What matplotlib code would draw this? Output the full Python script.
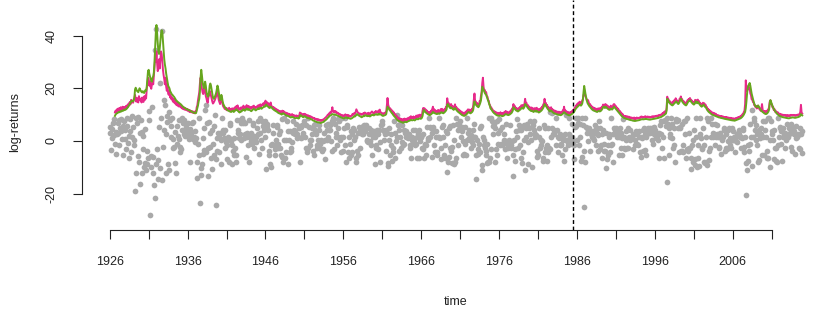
import numpy as np
import matplotlib.pyplot as plt

plt.rcParams['font.family'] = ['Liberation Sans', 'DejaVu Sans']

START_YEAR = 1926
BREAK_YEAR = 1985.5
X_TICKS = list(range(1926, 2012, 5))
Y_TICKS = [-20, 0, 20, 40]

# monthly log-returns (%), one row per year
returns_txt = """
1926: 3.0 5.3 -3.4 1.0 4.4 6.8 8.2 2.2 -1.2 -4.9 3.4 2.5
1927: 7.0 2.9 7.9 -1.7 4.8 8.4 3.6 0.8 5.6 -5.5 7.5 4.0
1928: 0.9 -3.1 8.6 5.5 -0.8 -6.6 1.7 8.3 3.8 -4.2 9.4 1.6
1929: 5.3 -1.6 0.4 -18.9 -12.0 8.8 6.9 9.1 -5.6 -8.1 -16.3 2.9
1930: 8.1 3.5 -12.0 1.8 -3.0 -9.7 4.7 -8.4 -11.2 -8.8 -4.0 -6.3
1931: 8.1 11.3 -28.1 -5.7 -9.8 12.9 -6.2 -12.2 -16.7 34.5 -21.6 -8.6
1932: 42.4 -3.1 -7.2 -14.5 5.3 -10.1 22.0 8.7 -14.8 41.9 -2.4 15.6
1933: 4.2 13.7 -12.3 2.8 7.1 9.6 -8.9 10.8 -11.0 7.9 5.7 1.6
1934: 8.9 -2.7 0.8 -2.2 -8.2 3.3 -12.0 5.8 -1.2 1.9 7.8 0.9
1935: -4.1 -2.3 -3.2 8.7 4.1 6.8 7.9 2.7 1.8 6.6 5.2 3.7
1936: 6.8 2.3 0.9 -7.9 4.7 3.2 6.9 1.2 0.6 7.1 1.4 -0.3
1937: 3.8 1.2 -14.2 -7.8 -1.1 -5.2 8.9 -23.4 -12.8 -10.2 -8.7 -4.9
1938: 1.2 4.8 -3.3 11.6 -4.1 13.8 6.9 -2.7 -13.3 7.2 -2.2 3.1
1939: -6.3 4.1 -10.8 -1.2 5.8 -5.3 9.7 -6.9 -24.4 1.1 -3.8 2.9
1940: -4.2 1.4 3.0 0.3 -8.9 8.8 4.0 2.9 1.0 4.2 -2.7 -0.3
1941: -6.8 -1.7 1.4 -7.9 1.2 6.2 6.9 0.1 -1.6 -8.8 -4.0 -5.5
1942: 1.0 -2.7 -8.1 -5.3 8.1 3.0 4.2 1.2 2.7 7.9 0.3 6.9
1943: 8.8 7.7 6.8 1.0 6.9 2.5 -6.2 1.6 3.0 -1.4 -8.1 7.9
1944: 1.6 0.1 3.0 -1.2 6.2 6.8 -2.5 1.7 0.3 -0.3 1.4 4.9
1945: 2.7 7.5 -5.1 8.8 2.9 0.4 -2.7 7.7 5.5 4.0 6.2 1.6
1946: 7.5 -10.7 6.4 5.5 4.0 -5.3 -3.8 -8.8 -9.8 -1.6 -1.0 6.2
1947: 2.9 -1.4 -3.0 -5.5 0.4 6.2 5.3 -2.7 -1.0 2.7 -2.5 3.6
1948: -5.3 -6.2 8.4 -7.8 8.6 0.3 -6.6 0.4 -4.2 7.5 -8.8 3.6
1949: 0.3 -4.2 3.6 -2.7 -4.0 -0.3 7.7 2.9 4.0 3.6 2.7 6.4
1950: 2.7 1.0 1.6 5.1 5.5 -7.9 1.2 5.3 6.2 1.6 2.9 6.4
1951: 7.5 1.6 -2.7 6.2 -4.2 -2.7 8.8 5.3 0.3 -1.6 0.4 4.9
1952: 2.7 -4.0 6.2 -5.5 4.2 6.4 2.7 -1.6 -2.7 0.3 6.2 4.2
1953: -1.0 0.3 -2.9 -4.0 0.1 -3.0 2.9 -6.8 0.4 6.2 4.0 0.3
1954: 6.4 1.6 4.2 6.2 4.0 0.1 7.5 -4.0 8.6 -2.9 8.4 6.4
1955: 2.9 1.4 -1.6 5.1 1.6 8.6 7.7 0.3 1.4 -4.2 8.8 1.6
1956: -4.0 5.1 8.8 -1.6 -7.9 5.3 6.2 -4.2 -6.4 1.4 -1.0 3.6
1957: -5.3 -4.2 2.7 4.9 4.0 0.3 1.6 -6.6 -8.1 -4.0 2.9 -5.5
1958: 5.3 -2.7 4.2 3.6 2.7 4.0 5.5 2.5 6.2 3.8 4.2 6.2
1959: 0.4 0.1 -0.3 5.1 2.7 -0.1 4.2 -1.6 -5.3 1.6 2.7 3.8
1960: -8.6 1.6 -1.6 -2.7 4.2 2.7 -2.9 4.0 -7.9 -0.3 6.2 6.4
1961: 7.5 4.0 3.6 0.3 2.7 -4.0 4.2 2.9 -9.5 -8.3 4.9 0.3
1962: -5.3 2.5 -1.4 -7.5 -4.2 -2.7 7.5 2.9 -6.4 0.1 9.8 1.6
1963: 6.2 -4.0 4.2 6.4 1.4 -2.7 -0.3 6.2 -1.6 4.0 -1.2 2.9
1964: 3.6 1.4 2.7 1.0 1.6 2.5 -2.7 -1.6 -6.6 1.4 0.3 -0.1
1965: 4.0 0.3 -1.4 4.2 -1.2 -6.6 1.6 2.7 4.2 -6.6 0.1 1.6
1966: 1.4 -2.7 -2.9 2.7 -6.4 -1.6 -1.0 -5.5 -1.4 5.3 1.2 0.3
1967: 8.8 1.6 5.3 5.1 -6.2 2.9 5.3 -1.6 3.8 -4.2 1.4 3.6
1968: -5.3 -4.2 1.4 8.6 1.6 1.2 -2.7 -7.0 5.3 1.6 6.2 -5.5
1969: -1.6 -6.4 3.6 2.9 -11.8 -7.9 -6.2 5.1 -2.7 5.5 -4.0 -2.3
1970: -8.4 6.2 0.3 -8.8 -7.9 -6.4 8.8 6.4 4.0 -1.6 6.2 7.5
1971: 5.1 1.6 5.3 3.6 -5.5 0.1 -4.9 5.3 -1.0 -5.3 0.3 8.7
1972: 2.9 4.0 1.2 0.3 2.3 -2.7 -0.3 4.2 -1.4 1.6 6.4 1.4
1973: -14.6 -5.3 0.3 -5.1 -2.9 -1.0 5.1 -4.2 5.5 -9.3 -11.0 1.6
1974: -1.4 0.3 -2.7 -5.5 -4.0 -1.2 -8.4 -7.8 -7.9 8.8 -6.4 -2.9
1975: 8.6 7.5 2.7 5.5 6.4 4.9 -7.9 -2.9 -5.3 7.7 2.9 -1.0
1976: 8.4 -1.6 4.0 -1.2 -1.6 5.3 -1.0 0.3 2.7 -2.9 0.1 6.4
1977: -6.4 -2.7 -1.6 0.3 -1.2 6.2 -2.7 -1.4 0.1 -5.5 -13.3 0.3
1978: -7.5 -2.9 3.8 8.4 1.6 -2.5 6.2 4.0 -1.6 -6.6 4.2 -8.5
1979: 5.3 -4.2 6.2 0.3 -11.0 5.1 1.4 6.4 -0.3 -8.8 5.1 2.7
1980: 7.7 0.3 -9.8 5.3 6.2 4.2 7.7 1.6 2.7 2.3 -6.0 -4.0
1981: -5.5 1.4 4.9 -2.7 0.3 -1.6 0.1 -7.5 -6.4 6.2 5.1 -4.2
1982: -2.7 -7.5 -1.6 5.1 -4.2 -2.7 -2.9 10.8 1.6 10.6 4.9 2.7
1983: 4.2 2.7 3.6 8.8 -1.4 4.0 -4.2 1.6 1.2 -1.6 2.7 -1.0
1984: -1.4 -5.5 1.6 0.3 -7.7 2.7 -2.9 9.8 -0.1 0.3 -1.6 2.7
1985: 8.8 1.6 -0.3 -1.0 6.4 1.4 -0.1 -1.6 -6.9 5.3 8.8 5.5
1986: 0.3 8.8 6.8 -1.6 6.4 1.4 -7.5 8.6 -6.2 6.2 -25.2 -4.0
1987: -7.8 8.6 5.3 4.9 2.9 0.1 5.1 4.2 -4.0 2.7 3.6 1.6
1988: 2.7 1.2 0.3 6.2 4.0 -1.6 5.1 2.9 2.3 -4.0 7.5 -2.9
1989: 5.1 -1.6 -6.5 2.7 4.2 -1.0 -4.0 -3.8 -10.4 2.9 -6.8 -1.4
1990: -5.3 1.6 2.5 -4.2 8.6 -1.4 -1.2 -8.1 2.7 5.1 4.0 2.9
1991: 5.1 1.6 2.7 3.6 1.4 -5.3 4.9 2.9 -2.7 1.2 -5.5 8.4
1992: -2.7 1.6 -2.9 3.8 0.3 -2.5 4.9 -2.7 1.4 0.3 4.0 1.0
1993: 1.6 1.0 2.7 -2.9 2.5 0.3 -1.4 3.6 -1.2 2.7 -1.6 1.4
1994: 3.8 -4.2 -6.2 1.6 1.2 -4.0 4.2 5.1 -3.6 2.7 -5.3 1.6
1995: 2.7 4.9 4.0 3.6 5.1 2.9 4.0 0.3 5.1 -1.0 5.3 2.5
1996: 4.0 1.6 1.2 1.6 2.7 0.3 -6.6 2.9 6.2 2.7 7.7 -2.7
1997: 7.5 1.6 -6.4 7.7 7.9 5.5 8.6 -15.4 6.4 -5.3 5.1 2.7
1998: 1.6 8.8 6.4 1.0 -2.7 5.1 -1.6 -7.9 7.5 8.4 7.5 7.9
1999: 5.1 -4.2 5.3 4.9 -4.0 6.4 -3.8 -1.6 -4.2 7.5 2.7 7.7
2000: -6.6 -2.9 8.8 -4.0 -2.7 2.9 -2.5 -10.8 -6.4 -1.6 -8.1 0.3
2001: 4.0 -9.1 -6.8 8.6 1.4 -9.7 -1.6 -6.5 -9.5 2.7 8.8 1.2
2002: -2.7 -2.9 5.1 -7.9 -1.6 -8.2 -7.8 1.4 -9.1 8.6 7.5 -7.1
2003: -4.0 -2.7 1.6 8.6 6.4 1.4 2.9 2.5 -1.6 6.4 1.6 6.2
2004: 2.5 1.6 -2.7 -2.3 1.4 2.9 -5.1 0.3 1.4 1.6 5.1 4.0
2005: -4.0 2.7 -2.5 -2.9 4.0 0.1 5.1 -1.6 1.2 -2.7 4.9 0.3
2006: 3.6 0.3 1.6 1.4 -4.2 0.1 -0.3 2.7 2.9 4.0 2.5 1.6
2007: 1.6 -2.7 1.2 5.1 4.0 -2.3 -4.2 1.4 -20.5 -8.5 -11.0 -1.6
2008: -7.7 -4.0 -1.0 6.4 1.6 -9.5 11.8 1.6 8.6 7.7 4.0 0.3
2009: 6.2 -1.6 2.7 -7.9 -7.2 4.0 1.2 5.1 2.7 -5.3 7.5 1.6
2010: -5.3 4.0 7.5 1.6 -4.0 -6.4 8.8 -6.6 8.6 -9.7 0.3 7.7
2011: 2.7 3.6 0.3 4.0 -7.0 -2.7 -2.5 -7.5 -7.9 8.8 -1.6 1.4
2012: 5.1 5.3 3.6 -1.2 -7.7 5.1 1.6 2.7 2.9 -2.5 0.3 1.4
2013: 6.4 1.6 4.9 2.7 2.9 -2.3 6.4 -4.0 4.2 5.3 3.6 2.7
2014: -5.1 5.5 1.2 1.4 2.7 2.3 -2.7 5.1 -2.9 2.7 3.6 -4.7
"""

# first forecast band (pink)
band_a_txt = """
1926: nan nan nan nan nan nan nan nan 10.8 11.5 10.9 12.0
1927: 11.2 12.3 11.6 12.5 11.4 12.8 11.9 12.6 13.0 11.8 12.9 12.2
1928: 12.5 13.3 12.4 13.6 12.9 14.2 13.5 14.8 13.9 15.6 14.7 15.2
1929: 14.5 15.8 16.2 17.5 15.8 14.9 16.3 15.2 14.6 17.0 16.2 15.4
1930: 15.8 14.6 16.5 15.3 14.8 16.9 15.5 17.2 16.1 19.5 22.0 24.0
1931: 23.5 21.0 22.5 20.5 19.8 21.5 23.0 21.5 24.5 28.0 31.5 30.0
1932: 34.0 29.5 26.5 28.0 31.0 27.5 30.5 34.0 33.0 30.5 27.0 25.0
1933: 23.5 21.5 24.0 20.5 19.0 21.5 18.0 17.5 19.0 16.5 17.2 15.8
1934: 16.5 15.2 14.8 16.0 14.3 15.1 13.8 14.6 13.5 14.2 13.1 13.8
1935: 13.2 12.8 13.5 12.4 12.9 12.1 12.7 11.9 12.5 11.8 12.2 11.6
1936: 12.1 11.3 11.8 11.0 11.6 10.9 11.4 10.8 11.2 10.6 11.1 10.5
1937: 11.2 10.8 12.8 13.5 15.5 17.0 18.5 22.0 24.0 21.5 20.0 18.5
1938: 17.8 18.9 20.5 19.0 17.0 16.2 15.0 14.5 16.5 17.5 19.0 18.0
1939: 17.2 16.0 15.0 14.2 14.5 15.0 15.5 16.2 17.0 18.5 19.5 17.0
1940: 15.5 14.8 14.0 15.5 17.0 15.0 13.8 13.0 12.8 12.2 12.6 11.9
1941: 12.5 11.6 12.2 11.8 12.6 11.5 12.0 11.4 12.3 11.9 12.4 11.6
1942: 12.0 12.8 12.3 13.2 12.4 13.5 12.1 11.8 12.4 11.9 12.7 12.2
1943: 12.8 12.4 13.4 12.6 12.2 13.0 12.8 13.6 12.9 12.5 13.3 12.7
1944: 12.4 12.9 12.2 12.7 13.1 12.6 13.4 12.8 12.5 12.9 12.6 13.2
1945: 13.0 13.6 12.8 13.4 13.9 13.1 13.5 13.8 14.2 13.6 14.5 14.0
1946: 15.3 14.2 14.8 13.9 14.4 13.5 13.2 13.9 14.6 13.4 13.1 12.8
1947: 12.9 12.3 12.6 11.9 12.2 11.6 11.9 11.3 11.6 11.0 11.4 10.9
1948: 11.2 10.7 11.5 11.0 11.3 10.6 10.9 10.4 10.7 10.1 10.5 10.0
1949: 10.3 9.8 10.1 9.6 9.9 10.2 9.7 9.5 9.8 9.3 9.6 9.4
1950: 9.7 9.3 9.5 9.2 9.6 10.8 10.3 10.5 10.0 9.8 10.2 9.9
1951: 10.3 9.9 10.1 9.6 9.8 9.4 9.7 9.2 9.5 9.0 9.3 8.9
1952: 9.0 8.6 8.8 8.4 8.6 8.2 8.4 8.0 8.3 7.9 8.2 7.8
1953: 7.9 7.6 7.9 7.7 8.1 7.9 8.3 8.5 8.8 8.9 9.3 9.5
1954: 10.0 9.8 10.5 10.3 11.0 10.6 11.5 12.8 11.2 10.9 11.4 11.0
1955: 11.3 10.7 10.9 10.4 10.6 10.1 10.3 9.9 10.0 9.6 9.8 9.5
1956: 9.7 9.3 9.8 10.1 9.8 9.6 9.9 9.4 9.8 9.5 9.3 9.2
1957: 9.5 9.6 10.2 9.9 10.4 10.6 10.3 11.2 12.0 11.4 10.9 10.6
1958: 10.5 10.2 10.4 10.0 9.9 10.3 10.1 10.6 10.2 10.8 10.5 10.4
1959: 10.2 10.5 10.3 10.7 10.2 10.1 10.6 10.9 11.2 10.8 10.6 10.4
1960: 11.0 10.8 11.4 10.9 10.7 11.1 11.5 10.8 11.9 11.0 10.8 10.6
1961: 10.3 10.4 10.2 10.6 10.5 10.9 11.2 13.5 16.3 13.8 12.9 12.4
1962: 12.4 11.5 11.9 10.8 11.3 10.2 10.8 9.6 10.1 9.1 9.6 8.6
1963: 9.0 8.1 8.7 7.8 8.5 7.7 8.3 7.5 8.2 7.6 8.5 7.9
1964: 8.4 7.7 8.5 7.9 8.8 8.1 9.0 8.4 9.4 8.5 9.1 8.6
1965: 9.3 8.5 9.1 8.7 9.6 9.0 9.7 8.8 9.8 9.4 10.0 9.0
1966: 9.8 9.6 11.5 12.5 12.0 12.4 11.2 11.9 10.8 11.5 10.4 11.0
1967: 10.2 10.9 10.3 11.5 10.8 12.2 13.0 11.4 12.0 10.9 11.6 10.7
1968: 11.4 10.7 11.8 10.9 11.5 11.0 12.1 11.6 12.2 11.0 11.8 11.2
1969: 12.2 11.7 12.9 12.8 16.2 14.4 14.5 13.3 13.8 12.8 14.0 12.9
1970: 13.3 12.3 13.0 12.8 13.9 12.5 12.9 11.8 12.3 11.4 11.9 11.0
1971: 11.5 10.6 11.1 10.2 10.8 10.0 10.6 10.1 11.0 10.4 11.5 11.0
1972: 12.0 11.4 11.9 11.1 11.7 11.2 12.2 11.9 13.4 15.8 18.0 15.0
1973: 15.0 13.9 14.4 13.4 14.0 13.7 15.2 15.1 17.2 18.6 22.0 24.0
1974: 20.5 19.2 19.3 18.1 18.5 17.0 16.8 15.5 15.3 13.8 13.6 12.3
1975: 12.7 11.7 11.9 11.1 11.4 10.7 11.1 10.4 10.8 10.1 10.7 10.1
1976: 10.6 10.0 10.9 10.1 10.6 9.9 10.6 10.2 11.0 10.6 11.4 10.6
1977: 11.1 10.3 10.8 10.4 11.1 10.8 11.6 11.2 12.3 12.3 14.0 13.0
1978: 13.3 12.3 12.6 11.9 12.3 11.6 12.4 12.1 12.9 12.6 13.5 13.2
1979: 13.6 12.7 13.7 14.0 16.0 14.3 14.5 13.4 13.7 12.8 13.1 12.3
1980: 12.7 11.9 12.7 11.8 12.3 11.5 12.4 12.1 12.4 11.6 12.6 11.7
1981: 12.1 11.3 12.0 11.6 12.4 12.0 13.0 12.8 13.9 14.1 16.0 14.3
1982: 14.4 13.4 13.6 12.6 12.9 12.0 12.3 11.9 12.8 11.8 12.1 11.3
1983: 11.7 11.0 11.5 10.8 11.3 10.6 11.1 10.4 11.1 10.4 10.9 10.3
1984: 11.0 10.7 11.6 11.4 13.0 11.3 11.6 10.8 11.2 10.5 11.0 10.3
1985: 10.8 10.3 11.0 10.5 11.3 10.9 11.8 11.5 12.5 12.4 13.4 13.1
1986: 14.0 13.6 14.5 14.1 14.9 14.2 14.6 14.3 15.4 15.8 17.4 18.0
1987: 18.5 17.0 16.4 15.4 15.6 15.5 14.7 13.7 14.0 13.1 13.4 12.5
1988: 12.9 12.1 12.6 11.9 12.4 11.7 12.2 11.5 12.3 11.9 12.4 11.7
1989: 12.4 12.0 12.9 12.7 13.8 13.4 13.8 13.0 14.0 13.3 13.6 12.8
1990: 13.2 12.4 12.9 12.4 13.4 12.6 13.0 12.7 13.8 14.0 13.8 12.9
1991: 13.2 12.3 12.6 11.7 12.0 11.1 11.4 10.5 10.8 9.9 10.3 9.5
1992: 9.6 9.2 9.5 9.0 9.4 8.9 9.3 8.8 9.2 8.7 9.0 8.6
1993: 8.9 8.5 8.8 8.4 8.9 8.3 8.7 8.4 8.9 8.5 8.8 8.6
1994: 8.7 9.0 8.8 9.3 8.9 9.2 8.8 9.1 9.0 9.4 9.0 9.2
1995: 9.0 9.3 8.9 9.2 8.8 9.1 8.9 9.3 9.0 9.4 9.1 9.3
1996: 9.2 9.5 9.3 9.6 9.4 9.7 9.5 9.9 9.7 10.0 9.9 10.2
1997: 10.6 10.3 11.0 10.7 11.4 11.1 12.5 16.8 15.5 15.8 14.6 15.1
1998: 14.8 14.4 14.5 14.1 15.0 14.7 15.5 15.2 16.2 15.4 15.4 14.6
1999: 15.1 14.8 16.0 16.1 16.9 15.8 15.8 15.0 15.2 14.4 14.7 14.0
2000: 14.5 14.4 15.4 15.4 15.9 15.8 16.3 15.6 15.6 14.9 15.0 14.3
2001: 14.7 14.6 15.6 15.4 15.4 14.8 15.7 14.9 15.1 14.2 14.4 13.6
2002: 14.0 13.7 14.5 14.3 14.3 13.4 13.8 12.9 12.9 12.0 12.2 11.4
2003: 11.7 11.0 11.3 10.6 10.9 10.3 10.7 10.1 10.5 9.9 10.3 9.7
2004: 9.7 9.8 9.5 9.6 9.4 9.5 9.2 9.4 9.1 9.3 9.0 9.1
2005: 8.9 9.1 8.8 9.0 8.7 8.9 8.6 8.8 8.5 8.8 8.4 8.6
2006: 8.3 8.6 8.2 8.5 8.4 8.7 8.5 8.9 8.7 9.1 8.9 9.3
2007: 9.2 9.6 9.6 10.2 10.3 11.0 11.5 14.0 23.0 19.5 19.0 20.0
2008: 20.9 19.6 19.9 18.0 17.4 15.8 15.9 14.8 14.7 13.6 13.6 12.8
2009: 13.2 12.3 13.3 13.1 13.0 12.0 12.3 11.4 12.3 14.0 11.9 11.0
2010: 11.4 10.6 11.3 10.5 11.4 11.1 11.9 11.8 13.2 15.0 15.4 14.0
2011: 14.0 12.8 13.0 11.8 12.2 11.1 11.5 10.7 11.0 10.3 10.8 10.1
2012: 10.0 10.3 9.8 10.1 9.7 10.0 9.6 9.9 9.6 9.8 9.5 9.8
2013: 9.5 9.8 9.4 9.7 9.5 9.9 9.6 9.9 9.8 9.7 9.9 9.6
2014: 9.7 9.5 9.9 9.8 10.0 9.7 10.1 10.2 11.0 13.7 10.8 10.4
"""

# second forecast band (green)
band_b_txt = """
1926: nan nan nan nan nan nan nan nan 9.5 10.0 10.3 10.5
1927: 10.6 10.8 11.0 10.9 11.1 11.3 11.2 11.4 11.6 11.5 11.7 11.9
1928: 11.8 12.0 12.2 12.5 12.8 13.2 13.6 14.0 14.6 15.0 15.3 15.2
1929: 15.0 15.4 16.5 19.5 20.2 19.6 19.0 18.8 18.5 19.2 20.0 19.4
1930: 19.0 18.6 18.4 18.9 18.5 18.2 18.8 19.3 19.0 20.5 23.5 26.5
1931: 27.0 25.5 24.5 23.5 22.8 22.5 24.0 24.5 26.0 30.0 36.0 41.0
1932: 44.0 41.0 37.0 34.0 33.0 35.0 38.0 40.5 42.0 41.5 38.0 34.5
1933: 31.0 29.0 27.5 25.5 24.0 22.5 21.0 20.5 20.0 19.0 18.5 18.0
1934: 17.6 17.4 17.0 16.8 16.4 16.0 15.5 15.3 15.0 14.8 14.6 14.4
1935: 14.2 14.0 13.8 13.5 13.2 13.0 12.8 12.6 12.5 12.3 12.2 12.0
1936: 11.9 11.8 11.7 11.6 11.4 11.3 11.2 11.0 10.9 10.8 10.7 10.6
1937: 10.5 10.6 11.5 12.5 13.5 15.0 16.0 19.0 24.0 27.0 25.0 22.5
1938: 21.0 20.0 20.8 22.5 21.0 18.8 17.5 16.8 17.0 18.5 21.0 21.8
1939: 21.0 19.5 18.0 16.5 16.0 16.3 16.8 17.5 18.2 19.5 21.0 20.0
1940: 18.5 17.0 15.5 16.0 17.5 16.5 15.0 14.0 13.5 13.0 12.6 12.3
1941: 12.0 11.8 11.6 11.5 11.3 11.2 11.1 11.0 11.2 11.5 11.3 11.0
1942: 11.2 11.5 11.7 12.0 11.8 11.5 11.3 11.0 10.8 11.0 11.3 11.2
1943: 11.5 11.8 12.0 11.7 11.5 11.6 12.0 12.3 12.0 11.8 12.1 11.9
1944: 11.7 11.5 11.3 11.5 11.8 12.0 12.2 12.0 11.8 11.6 11.8 12.0
1945: 12.2 12.4 12.1 12.3 12.6 12.4 12.2 12.5 12.7 12.9 13.1 13.0
1946: 13.3 13.8 13.5 13.2 13.0 12.8 12.5 12.6 13.0 12.8 12.5 12.2
1947: 12.0 11.8 11.6 11.5 11.3 11.2 11.0 10.8 10.6 10.5 10.4 10.3
1948: 10.2 10.0 10.3 10.5 10.4 10.2 10.0 9.8 9.7 9.5 9.6 9.5
1949: 9.3 9.2 9.0 8.9 9.0 9.2 9.1 8.9 8.8 8.7 8.6 8.7
1950: 8.8 8.7 8.6 8.5 8.7 9.5 9.8 9.6 9.4 9.2 9.0 9.2
1951: 9.4 9.3 9.1 9.0 8.8 8.7 8.6 8.7 8.5 8.4 8.3 8.2
1952: 8.0 7.8 7.7 7.6 7.5 7.4 7.3 7.2 7.1 7.0 7.1 7.0
1953: 6.9 6.8 6.9 7.0 7.1 7.2 7.3 7.6 7.8 8.0 8.2 8.5
1954: 8.8 9.0 9.3 9.5 9.7 9.8 10.0 10.2 10.1 10.0 9.9 10.1
1955: 10.0 9.8 9.7 9.6 9.5 9.4 9.3 9.1 9.0 8.9 8.8 8.7
1956: 8.6 8.5 8.7 8.9 9.0 8.8 8.7 8.6 8.8 8.6 8.5 8.4
1957: 8.5 8.6 8.8 9.0 9.2 9.4 9.3 9.6 10.0 10.2 10.0 9.8
1958: 9.6 9.5 9.3 9.2 9.0 9.1 9.3 9.5 9.4 9.6 9.8 9.7
1959: 9.5 9.4 9.5 9.6 9.4 9.3 9.5 9.7 9.9 10.0 9.8 9.7
1960: 9.9 10.0 10.2 10.1 9.9 10.0 10.2 10.0 10.3 10.1 10.0 9.8
1961: 9.6 9.5 9.6 9.7 9.8 9.9 10.2 11.5 13.0 12.6 12.2 11.8
1962: 11.5 11.2 10.8 10.5 10.2 9.8 9.5 9.2 9.0 8.6 8.3 8.0
1963: 7.8 7.6 7.5 7.4 7.3 7.2 7.1 7.0 6.9 7.0 7.2 7.3
1964: 7.2 7.1 7.2 7.4 7.5 7.6 7.7 7.8 8.0 7.9 7.8 7.9
1965: 8.0 7.9 7.8 8.0 8.2 8.4 8.3 8.2 8.4 8.6 8.5 8.4
1966: 8.5 8.8 9.5 11.0 11.8 11.4 11.0 10.8 10.6 10.4 10.2 10.0
1967: 9.9 9.8 9.9 10.1 10.3 10.6 11.0 10.8 10.6 10.5 10.4 10.3
1968: 10.2 10.3 10.5 10.4 10.3 10.5 10.7 10.9 10.8 10.6 10.5 10.7
1969: 10.9 11.2 11.5 12.0 13.8 14.0 13.5 13.0 12.6 12.4 12.8 12.5
1970: 12.2 12.0 11.8 12.2 12.5 12.2 11.8 11.5 11.2 11.0 10.8 10.6
1971: 10.4 10.2 10.0 9.8 9.7 9.6 9.5 9.6 9.8 9.9 10.2 10.5
1972: 10.8 11.0 10.8 10.6 10.5 10.7 10.9 11.2 11.8 13.5 15.0 14.2
1973: 13.8 13.5 13.2 13.0 12.8 13.2 13.8 14.5 15.5 17.5 20.6 20.0
1974: 19.5 18.8 18.2 17.8 17.5 16.8 16.0 15.4 14.6 13.8 13.0 12.3
1975: 12.0 11.6 11.2 10.9 10.6 10.4 10.2 10.0 9.8 9.7 9.6 9.6
1976: 9.5 9.6 9.7 9.6 9.5 9.4 9.5 9.6 9.8 10.0 10.2 10.1
1977: 10.0 9.9 9.8 9.9 10.0 10.2 10.4 10.6 11.0 11.5 12.8 12.5
1978: 12.2 11.9 11.6 11.5 11.3 11.2 11.4 11.6 11.8 12.0 12.3 12.6
1979: 12.5 12.2 12.5 13.0 14.0 13.8 13.4 13.0 12.6 12.3 12.0 11.8
1980: 11.6 11.4 11.5 11.3 11.2 11.0 11.2 11.5 11.3 11.1 11.4 11.2
1981: 11.0 10.8 10.9 11.1 11.3 11.5 11.8 12.2 12.6 13.2 14.0 13.7
1982: 13.3 12.9 12.5 12.1 11.8 11.5 11.2 11.4 11.6 11.3 11.0 10.8
1983: 10.6 10.5 10.4 10.3 10.2 10.1 10.0 9.9 10.0 9.9 9.8 9.8
1984: 9.9 10.1 10.3 10.6 10.9 10.7 10.5 10.3 10.1 10.0 9.9 9.8
1985: 9.7 9.8 9.9 10.0 10.2 10.4 10.6 10.9 11.3 11.8 12.2 12.5
1986: 12.8 13.0 13.3 13.5 13.7 13.6 13.4 13.7 14.2 15.5 18.5 20.9
1987: 19.5 17.8 16.5 15.5 14.5 14.0 13.6 13.2 12.9 12.6 12.3 12.0
1988: 11.8 11.6 11.5 11.4 11.3 11.2 11.1 11.0 11.2 11.4 11.3 11.2
1989: 11.3 11.5 11.8 12.2 12.8 13.0 12.7 12.5 13.0 12.8 12.5 12.3
1990: 12.1 11.9 11.8 11.9 12.3 12.1 11.9 12.2 12.6 13.0 12.7 12.4
1991: 12.1 11.8 11.5 11.2 10.9 10.6 10.3 10.0 9.7 9.4 9.2 9.0
1992: 8.8 8.7 8.6 8.5 8.4 8.3 8.3 8.2 8.1 8.0 8.0 7.9
1993: 7.9 7.8 7.7 7.7 7.6 7.6 7.6 7.7 7.7 7.8 7.8 7.9
1994: 7.9 8.0 8.1 8.2 8.2 8.3 8.2 8.2 8.3 8.3 8.4 8.3
1995: 8.3 8.2 8.2 8.1 8.1 8.1 8.2 8.2 8.3 8.3 8.4 8.4
1996: 8.5 8.5 8.6 8.6 8.7 8.7 8.9 8.9 9.0 9.0 9.2 9.3
1997: 9.5 9.6 9.8 10.0 10.2 10.4 11.5 16.0 15.5 15.0 14.6 14.3
1998: 14.0 13.8 13.6 13.5 13.7 14.0 14.3 14.5 14.8 15.0 14.6 14.2
1999: 14.0 14.3 14.8 15.5 16.0 15.6 15.0 14.6 14.3 14.0 13.8 13.6
2000: 13.5 13.8 14.3 14.8 15.0 15.3 15.5 15.2 14.8 14.5 14.2 14.0
2001: 13.8 14.0 14.5 15.0 14.6 14.3 14.8 14.5 14.2 13.8 13.5 13.2
2002: 13.0 13.2 13.5 13.8 13.4 13.0 12.8 12.5 12.0 11.6 11.3 11.0
2003: 10.8 10.6 10.4 10.2 10.0 9.9 9.8 9.7 9.6 9.5 9.4 9.3
2004: 9.2 9.1 9.0 8.9 8.9 8.8 8.7 8.7 8.6 8.6 8.5 8.4
2005: 8.4 8.3 8.3 8.2 8.2 8.1 8.1 8.0 8.0 7.9 7.9 7.8
2006: 7.8 7.8 7.7 7.7 7.8 7.9 8.0 8.1 8.2 8.3 8.4 8.5
2007: 8.6 8.8 9.0 9.3 9.6 10.0 10.5 11.0 12.5 15.0 18.0 20.0
2008: 21.0 21.5 22.0 21.0 19.5 18.0 17.0 16.0 15.0 14.2 13.6 13.2
2009: 13.0 12.8 13.2 13.5 13.0 12.6 12.2 11.8 11.5 11.2 11.0 10.8
2010: 10.6 10.4 10.3 10.2 10.3 10.5 10.8 11.2 12.0 14.5 15.5 14.8
2011: 14.0 13.3 12.7 12.2 11.8 11.4 11.0 10.7 10.4 10.1 9.9 9.7
2012: 9.5 9.4 9.3 9.2 9.1 9.0 9.0 8.9 8.9 8.8 8.8 8.7
2013: 8.7 8.6 8.6 8.6 8.7 8.8 8.8 8.9 9.0 8.9 8.9 8.8
2014: 8.8 8.8 8.9 9.0 9.0 9.1 9.2 9.3 9.6 10.2 9.9 9.7
"""


def parse_rows(txt):
    """Turn 'year: v1 ... v12' rows into one flat monthly array."""
    vals = []
    for line in txt.strip().splitlines():
        vals.extend(float(v) for v in line.split(':')[1].split())
    return np.array(vals)


returns = parse_rows(returns_txt)
band_a = parse_rows(band_a_txt)
band_b = parse_rows(band_b_txt)
t = START_YEAR + np.arange(len(returns)) / 12.0

W, H = 830, 312
fig = plt.figure(figsize=(W / 100, H / 100), dpi=100)
ax = fig.add_axes([82 / W, 82 / H, 748 / W, 230 / H])

ax.scatter(t, returns, s=17, c='#A9A9A9', linewidths=0, zorder=1)
ax.plot(t, band_a, color='#E7298A', lw=1.4, zorder=2)
ax.plot(t, band_b, color='#66A61E', lw=1.4, zorder=3)
ax.axvline(BREAK_YEAR, color='black', lw=1.0, ls=(0, (2.8, 1.9)), zorder=4)

ax.set_xlim(1922.44, 2018.48)
ax.set_ylim(-33.8, 53.5)

for side in ['top', 'right']:
    ax.spines[side].set_visible(False)
ax.spines['left'].set_bounds(-20, 40)
ax.spines['bottom'].set_bounds(X_TICKS[0], X_TICKS[-1])
for side in ['left', 'bottom']:
    ax.spines[side].set_linewidth(0.8)
    ax.spines[side].set_color('#222222')

ax.set_xticks(X_TICKS)
ax.set_xticklabels([str(y) if (y - 1926) % 10 == 0 else '' for y in X_TICKS])
ax.set_yticks(Y_TICKS)
ax.set_yticklabels([str(v) for v in Y_TICKS], rotation=90, va='center')
ax.tick_params(axis='both', length=6.5, width=0.8, color='#222222',
               labelsize=9, labelcolor='#222222')
ax.tick_params(axis='x', pad=12)
ax.tick_params(axis='y', pad=11)

fig.text(15 / W, 1 - 122 / H, 'log-returns', rotation=90, ha='center',
         va='center', fontsize=9, color='#222222')
fig.text(456 / W, 1 - 302 / H, 'time', ha='center', va='center',
         fontsize=9, color='#222222')

fig.savefig('out.png', dpi=100)
